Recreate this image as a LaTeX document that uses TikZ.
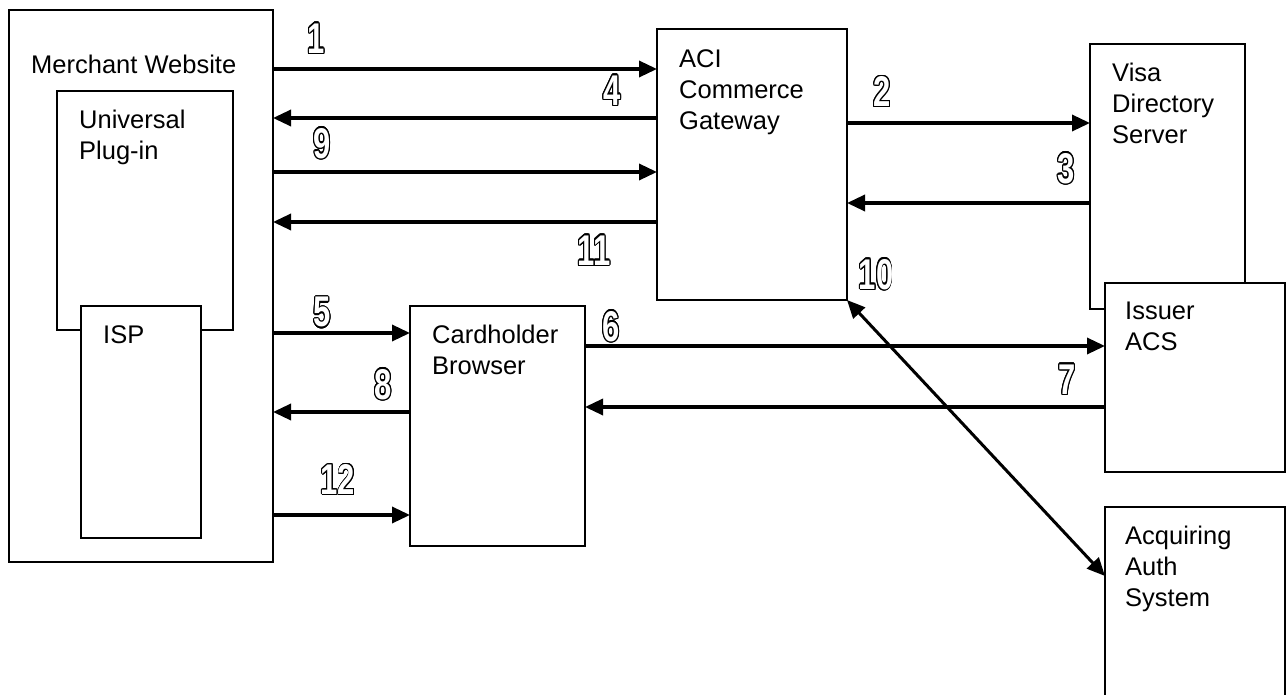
\documentclass[tikz,border=0pt]{standalone}
\usepackage{fontspec}
\setmainfont{Liberation Sans}
\usepackage{contour}
\contourlength{1.3pt}
\usetikzlibrary{arrows.meta,calc}
\begin{document}
\begin{tikzpicture}[x=1pt,y=-1pt,
  box/.style={draw, line width=1.7pt, fill=white, anchor=north west, inner sep=0pt, outer sep=0pt},
  lbl/.style={anchor=north west, align=left, inner sep=0pt, font=\fontsize{25.5}{31}\selectfont},
  arr/.style={line width=3.4pt, -{Triangle[length=18pt,width=16pt]}},
  darr/.style={line width=3pt, {Triangle[length=18pt,width=16pt]}-{Triangle[length=18pt,width=16pt]}},
  num/.style={inner sep=0pt, font=\fontsize{43}{43}\bfseries\selectfont, xscale=0.72},
]
\useasboundingbox (0,0) rectangle (1287,695);
% boxes
\node[box, minimum width=264pt, minimum height=552pt] (merch) at (9,10) {};
\node[box, minimum width=176pt, minimum height=239pt] (plug) at (57,91) {};
\node[box, minimum width=120pt, minimum height=232pt] (isp) at (81,306) {};
\node[box, minimum width=190pt, minimum height=271pt] (aci) at (657,29) {};
\node[box, minimum width=175pt, minimum height=240pt] (card) at (410,306) {};
\node[box, minimum width=155pt, minimum height=265pt] (visa) at (1090,44) {};
\node[box, minimum width=180pt, minimum height=189pt] (iss) at (1105,283) {};
\node[box, minimum width=180pt, minimum height=200pt] (acq) at (1105,507) {};
% texts
\node[lbl] (merchT) at ($(merch.north west)+(22,45)$) {Merchant Website};
\node[lbl] (plugT) at ($(plug.north west)+(22,19)$) {Universal\\Plug-in};
\node[lbl] (ispT) at ($(isp.north west)+(22,19)$) {ISP};
\node[lbl] (aciT) at ($(aci.north west)+(22,20)$) {ACI\\Commerce\\Gateway};
\node[lbl] (cardT) at ($(card.north west)+(22,19)$) {Cardholder\\Browser};
\node[lbl] (visaT) at ($(visa.north west)+(22,19)$) {Visa\\Directory\\Server};
\node[lbl] (issT) at ($(iss.north west)+(20,19)$) {Issuer\\ACS};
\node[lbl] (acqT) at ($(acq.north west)+(20,19)$) {Acquiring\\Auth\\System};
% arrows
\draw[arr] (merch.east |- 0,69) -- (aci.west |- 0,69);
\draw[arr] (aci.west |- 0,118) -- (merch.east |- 0,118);
\draw[arr] (merch.east |- 0,172) -- (aci.west |- 0,172);
\draw[arr] (aci.west |- 0,222) -- (merch.east |- 0,222);
\draw[arr] (aci.east |- 0,123) -- (visa.west |- 0,123);
\draw[arr] (visa.west |- 0,203) -- (aci.east |- 0,203);
\draw[arr] (merch.east |- 0,333) -- (card.west |- 0,333);
\draw[arr] (card.west |- 0,412) -- (merch.east |- 0,412);
\draw[arr] (merch.east |- 0,515) -- (card.west |- 0,515);
\draw[arr] (card.east |- 0,346) -- (iss.west |- 0,346);
\draw[arr] (iss.west |- 0,407) -- (card.east |- 0,407);
\draw[darr] (aci.south east) -- (acq.west |- 0,576);
% step numbers
\node[num] (n1) at (316,39) {\contour{black}{\textcolor{white}{1}}};
\node[num] (n4) at (612,91) {\contour{black}{\textcolor{white}{4}}};
\node[num] (n9) at (322,144) {\contour{black}{\textcolor{white}{9}}};
\node[num] (n11) at (594,251) {\contour{black}{\textcolor{white}{11}}};
\node[num] (n2) at (882,92) {\contour{black}{\textcolor{white}{2}}};
\node[num] (n3) at (1066,169) {\contour{black}{\textcolor{white}{3}}};
\node[num] (n10) at (876,275) {\contour{black}{\textcolor{white}{10}}};
\node[num] (n5) at (322,313) {\contour{black}{\textcolor{white}{5}}};
\node[num] (n6) at (611,327) {\contour{black}{\textcolor{white}{6}}};
\node[num] (n8) at (383,385) {\contour{black}{\textcolor{white}{8}}};
\node[num] (n7) at (1067,380) {\contour{black}{\textcolor{white}{7}}};
\node[num] (n12) at (338,480) {\contour{black}{\textcolor{white}{12}}};
\end{tikzpicture}
\end{document}
